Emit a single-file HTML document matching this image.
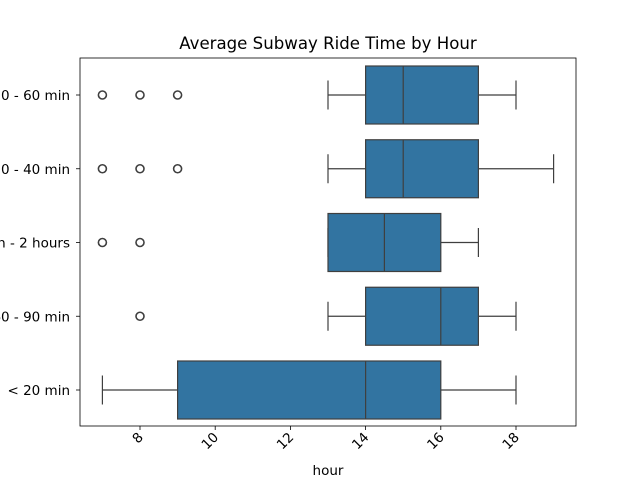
<!DOCTYPE html>
<html><head><meta charset="utf-8"><style>body{margin:0;background:#fff}svg{font-family:"DejaVu Sans",sans-serif}</style></head>
<body>
<svg id="chart" width="640" height="480" xmlns="http://www.w3.org/2000/svg">
<text x="328" y="49" text-anchor="middle" font-size="16.6">Average Subway Ride Time by Hour</text>
<g id="plot"></g>
<rect x="80" y="58" width="496" height="368" fill="none" stroke="#000" stroke-width="0.8"/>
<text x="328" y="475" text-anchor="middle" font-size="13.5">hour</text>
</svg>
<script>
const categories = ["30 - 60 min","20 - 40 min","90 min - 2 hours","60 - 90 min","< 20 min"];
const whiskerLow = [13,13,13,13,7];
const q1 = [14,14,13,14,9];
const medians = [15,15,14.5,16,14];
const q3 = [17,17,16,17,16];
const whiskerHigh = [18,19,17,18,18];
const outliers = [[7,8,9],[7,8,9],[7,8],[8],[]];
const xTicks = [8,10,12,14,16,18];

const NS="http://www.w3.org/2000/svg";
const g=document.getElementById('plot');
const svg=document.getElementById('chart');
function xs(v){return 140+(v-8)*37.6;}
function ys(i){return 95+i*73.75;}
const bh=58;
function mk(t,a,p){const e=document.createElementNS(NS,t);for(const k in a)e.setAttribute(k,a[k]);(p||g).appendChild(e);return e;}
categories.forEach((c,i)=>{
  const y=ys(i);
  let e=mk('line',{x1:xs(whiskerLow[i]),x2:xs(q1[i]),y1:y,y2:y,stroke:'#3f3f3f','stroke-width':1.2});
  
  e=mk('line',{x1:xs(q3[i]),x2:xs(whiskerHigh[i]),y1:y,y2:y,stroke:'#3f3f3f','stroke-width':1.2});
  
  e=mk('line',{x1:xs(whiskerLow[i]),x2:xs(whiskerLow[i]),y1:y-bh/4,y2:y+bh/4,stroke:'#3f3f3f','stroke-width':1.2});
  
  e=mk('line',{x1:xs(whiskerHigh[i]),x2:xs(whiskerHigh[i]),y1:y-bh/4,y2:y+bh/4,stroke:'#3f3f3f','stroke-width':1.2});
  
  e=mk('rect',{x:xs(q1[i]),y:y-bh/2,width:xs(q3[i])-xs(q1[i]),height:bh,fill:'#3274a1',stroke:'#3f3f3f','stroke-width':1.2});
  
  e=mk('line',{x1:xs(medians[i]),x2:xs(medians[i]),y1:y-bh/2,y2:y+bh/2,stroke:'#3f3f3f','stroke-width':1.2});
  
  outliers[i].forEach(o=>{
    const c2=mk('circle',{cx:xs(o),cy:y,r:4,fill:'none',stroke:'#3f3f3f','stroke-width':1.6});
    
  });
  e=mk('line',{x1:76,x2:80,y1:y,y2:y,stroke:'#000','stroke-width':0.8},svg);
  
  e=mk('text',{x:70,y:y+5,'text-anchor':'end','font-size':13.5},svg);e.textContent=c;
  
});
xTicks.forEach(t=>{
  let e=mk('line',{x1:xs(t),x2:xs(t),y1:426,y2:430,stroke:'#000','stroke-width':0.8},svg);
  
  e=mk('text',{x:xs(t)+4,y:438,'text-anchor':'end','font-size':13.5,transform:`rotate(-45 ${xs(t)+4} 438)`},svg);
  e.textContent=t;
  
});
</script>
</body></html>
